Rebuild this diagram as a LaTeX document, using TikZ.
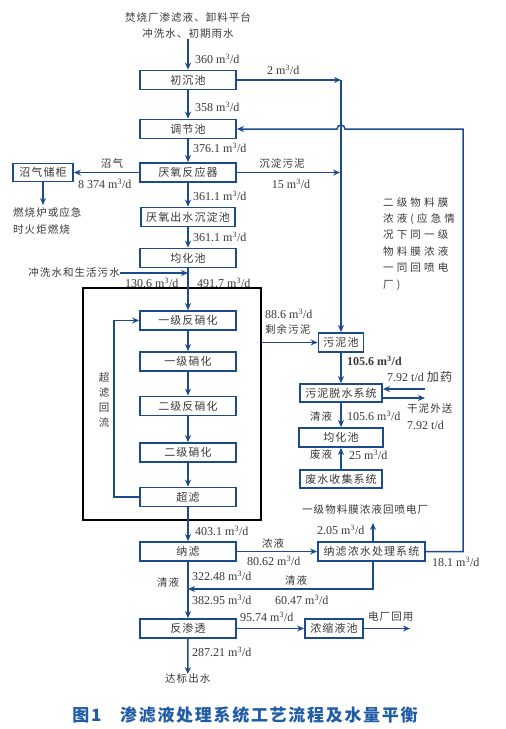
\documentclass[tikz,border=0pt]{standalone}
\usepackage{fontspec}
\setmainfont{Liberation Serif}
\newfontfamily\cjk[LetterSpace=10]{Noto Sans CJK SC}
\newfontfamily\cjkwide[LetterSpace=30]{Noto Sans CJK SC}
\usetikzlibrary{arrows.meta}
\definecolor{lineblue}{RGB}{28,74,140}
\definecolor{txtgray}{RGB}{55,55,55}
\definecolor{titleblue}{RGB}{32,92,165}
\newcommand{\mcd}{m\textsuperscript{3}/d}
\tikzset{box/.style = {draw = lineblue, line width = 1.8, inner sep = 0, minimum height = 19, text = txtgray, font = \cjk\fontsize{11}{13}\selectfont}}
\tikzset{lbl/.style = {text = txtgray, inner sep = 0, anchor = west, font = \cjk\fontsize{10.5}{12}\selectfont}}
\tikzset{num/.style = {text = txtgray, inner sep = 0, anchor = west, font = \fontsize{12}{14}\selectfont}}
\tikzset{flow/.style = {draw = lineblue, line width = 1.5, -{Stealth[length = 7pt, width = 6pt]}}}

\begin{document}
\begin{tikzpicture}[x = 1pt, y = -1pt]
    \useasboundingbox (0,0) rectangle (506,729);

    % main column
    \node [lbl, anchor = center] (src1) at (188,18) {焚烧厂渗滤液、卸料平台};
    \node [lbl, anchor = center] (src2) at (188,34) {冲洗水、初期雨水};
    \node [box, minimum width = 96] (chuchen) at (188,80) {初沉池};
    \node [box, minimum width = 96] (tiaojie) at (188,129) {调节池};
    \node [box, minimum width = 96] (yanyang) at (188,172.5) {厌氧反应器};
    \node [box, minimum width = 94] (chendian) at (188,217) {厌氧出水沉淀池};
    \node [box, minimum width = 96] (junhua) at (188,258) {均化池};
    \node [box, minimum width = 96] (fanxiao1) at (188,320.5) {一级反硝化};
    \node [box, minimum width = 96] (xiaohua1) at (188,361.5) {一级硝化};
    \node [box, minimum width = 96] (fanxiao2) at (188,406) {二级反硝化};
    \node [box, minimum width = 96] (xiaohua2) at (188,452.5) {二级硝化};
    \node [box, minimum width = 96] (chaolv) at (188,497) {超滤};
    \node [box, minimum width = 96] (nalv) at (188,551.5) {纳滤};
    \node [box, minimum width = 96] (fanshen) at (188,628.5) {反渗透};
    \node [draw, line width = 2.5, inner sep = 0, minimum width = 178, minimum height = 232] (reactor) at (172,404) {};

    % side boxes
    \node [box, minimum width = 60, minimum height = 18] (zhaoqi) at (43,172.5) {沼气储柜};
    \node [box, minimum width = 45] (wuni) at (341,342.5) {污泥池};
    \node [box, minimum width = 82, minimum height = 18] (tuoshui) at (341,393) {污泥脱水系统};
    \node [box, minimum width = 84] (junhua2) at (341,437.5) {均化池};
    \node [box, minimum width = 82, minimum height = 18] (feishui) at (341,479) {废水收集系统};
    \node [box, minimum width = 107] (nongshui) at (371.5,551.5) {纳滤浓水处理系统};
    \node [box, minimum width = 58] (nongsuo) at (334,628.5) {浓缩液池};

    % free ends
    \coordinate (c1) at (341,80);
    \coordinate (c2) at (340,172.5);
    \coordinate (burn) at (43,205);
    \coordinate (mix) at (188,273);
    \coordinate (lb) at (114,497);
    \coordinate (lt) at (114,320.5);
    \coordinate (dose) at (425,389);
    \coordinate (dry) at (425,398);
    \coordinate (up) at (373,523);
    \coordinate (cl1) at (373,589);
    \coordinate (cl2) at (188,589);
    \coordinate (reuse) at (410,628.5);
    \coordinate (r1) at (463,551.5);
    \coordinate (r2) at (463,129);

    % connectors
    \draw [flow] (src2) -- (chuchen);
    \draw [flow] (chuchen) -- (tiaojie);
    \draw [flow] (chuchen) -- (c1);
    \draw [flow] (c1) -- (wuni);
    \draw [flow] (tiaojie) -- (yanyang);
    \draw [flow] (yanyang) -- (zhaoqi);
    \draw [flow] (zhaoqi) -- (burn);
    \draw [flow] (yanyang) -- (c2);
    \draw [flow] (yanyang) -- (chendian);
    \draw [flow] (chendian) -- (junhua);
    \draw [flow] (junhua) -- (fanxiao1);
    \node [lbl, anchor = east] (rinse) at (120,273) {冲洗水和生活污水};
    \draw [flow] (rinse) -- (mix);
    \draw [flow] (fanxiao1) -- (xiaohua1);
    \draw [flow] (xiaohua1) -- (fanxiao2);
    \draw [flow] (fanxiao2) -- (xiaohua2);
    \draw [flow] (xiaohua2) -- (chaolv);
    \draw [flow] (chaolv) -- (lb) -- (lt) -- (fanxiao1);
    \draw [flow] (reactor.east |- wuni) -- (wuni);
    \draw [flow] (wuni) -- (tuoshui);
    \draw [flow] (tuoshui) -- (junhua2);
    \draw [flow] (feishui) -- (junhua2);
    \draw [flow] (dose) -- (tuoshui.east |- dose);
    \draw [flow] (tuoshui.east |- dry) -- (dry);
    \draw [flow] (chaolv) -- (nalv);
    \draw [flow] (nalv) -- (nongshui);
    \draw [flow] (up |- nongshui.north) -- (up);
    \draw [flow] (cl1 |- nongshui.south) -- (cl1) -- (cl2);
    \draw [flow] (nalv) -- (fanshen);
    \draw [flow] (fanshen) -- (nongsuo);
    \draw [flow] (nongsuo) -- (reuse);
    \node [lbl] (outlet) at (165,679) {达标出水};
    \draw [flow] (fanshen) -- (outlet);
    \draw [flow] (nongshui) -- (r1) -- (r2) -- (345,129) arc [start angle = 0, end angle = 180, radius = 4pt] -- (tiaojie);

    % flow labels
    \node [num] (q1) at (195,59) {360 \mcd};
    \node [num] (q2) at (267,70) {2 \mcd};
    \node [num] (q3) at (195,107) {358 \mcd};
    \node [num] (q4) at (193,148) {376.1 \mcd};
    \node [lbl, anchor = center] (gas) at (112,163) {沼气};
    \node [num] (q5) at (78,184) {8 374 \mcd};
    \node [lbl, anchor = center] (sludge) at (282,163) {沉淀污泥};
    \node [num, anchor = center] (q6) at (291,184) {15 \mcd};
    \node [lbl] (burn1) at (13,212) {燃烧炉或应急};
    \node [lbl] (burn2) at (13,229) {时火炬燃烧};
    \node [num] (q7) at (193,196) {361.1 \mcd};
    \node [num] (q8) at (193,237) {361.1 \mcd};
    \node [num] (q9) at (125,283) {130.6 \mcd};
    \node [num] (q10) at (197,283) {491.7 \mcd};
    \node [lbl, anchor = center, align = center, font = \cjk\fontsize{10.5}{14.7}\selectfont] (reflux) at (104,400) {超\\滤\\回\\流};
    \node [num] (q11) at (265,314) {88.6 \mcd};
    \node [lbl] (excess) at (265,329) {剩余污泥};
    \node [num, font = \bfseries\fontsize{12}{14}\selectfont] (q12) at (347,361) {105.6 \mcd};
    \node [num] (q13) at (387,377) {7.92 t/d {\cjk 加药}};
    \node [lbl] (drycake) at (407,409) {干泥外送};
    \node [num] (q14) at (407,425) {7.92 t/d};
    \node [lbl] (clear1) at (310,416) {清液};
    \node [num] (q15) at (347,416) {105.6 \mcd};
    \node [lbl] (waste) at (310,455) {废液};
    \node [num] (q16) at (349,455) {25 \mcd};
    \node [lbl, anchor = north west, align = left, font = \cjkwide\fontsize{10.5}{16.4}\selectfont] (note) at (383,197) {二级物料膜\\浓液(应急情\\况下同一级\\物料膜浓液\\一同回喷电\\厂)};
    \node [num] (q17) at (195,531) {403.1 \mcd};
    \node [lbl] (spray) at (302,509) {一级物料膜浓液回喷电厂};
    \node [num] (q18) at (317,530) {2.05 \mcd};
    \node [lbl] (conc) at (262,543) {浓液};
    \node [num] (q19) at (247,561) {80.62 \mcd};
    \node [num] (q20) at (432,562) {18.1 \mcd};
    \node [num] (q21) at (192,576) {322.48 \mcd};
    \node [lbl] (clear2) at (157,582) {清液};
    \node [lbl] (clear3) at (285,580) {清液};
    \node [num] (q22) at (192,600) {382.95 \mcd};
    \node [num] (q23) at (275,600) {60.47 \mcd};
    \node [num] (q24) at (240,617) {95.74 \mcd};
    \node [lbl] (plant) at (368,617) {电厂回用};
    \node [num] (q25) at (192,652) {287.21 \mcd};

    % caption
    \node [text = titleblue, inner sep = 0, font = \cjk\bfseries\fontsize{17}{19}\selectfont] (title) at (245,715) {图1\hspace{1.1em}渗滤液处理系统工艺流程及水量平衡};
\end{tikzpicture}
\end{document}
